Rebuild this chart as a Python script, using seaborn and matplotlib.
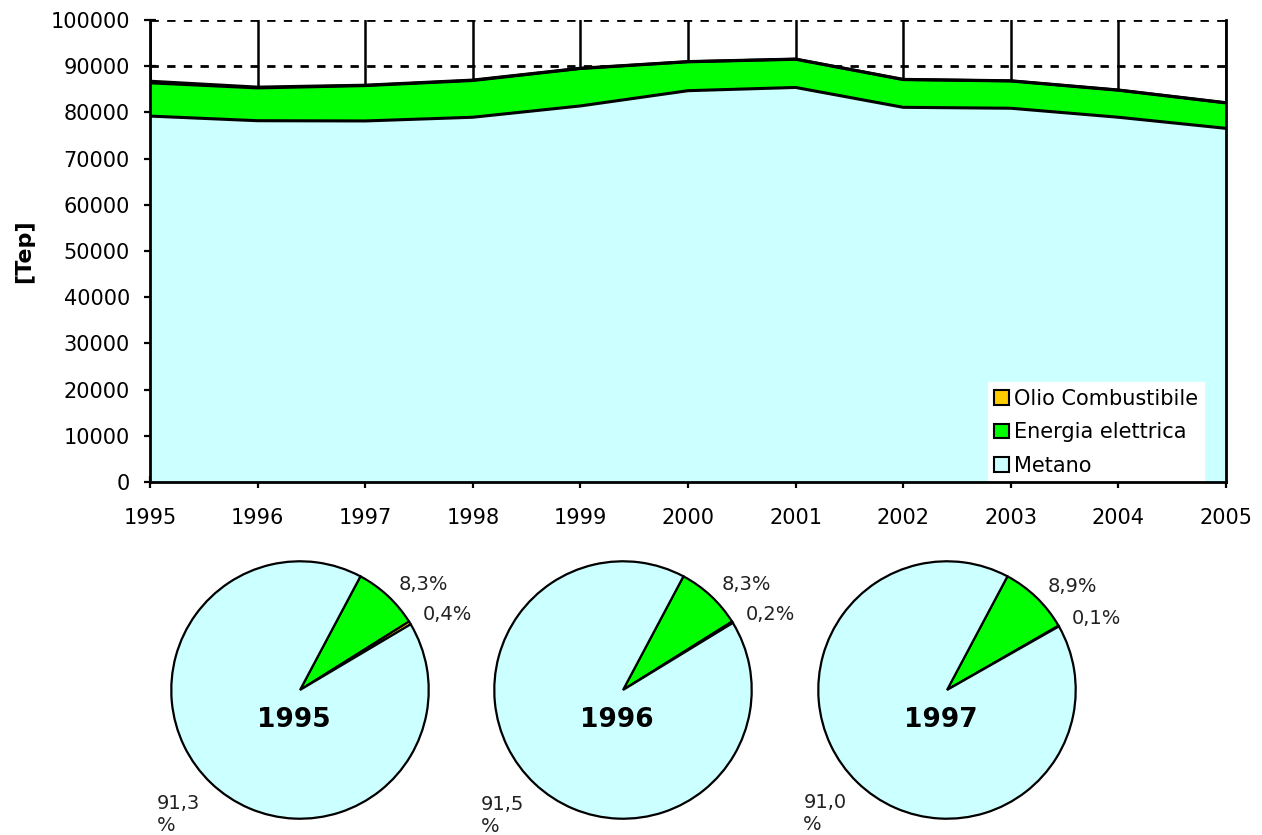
import matplotlib

matplotlib.use("Agg")

import matplotlib.pyplot as plt
import numpy as np
import pandas as pd
import seaborn as sns
from matplotlib.patches import Patch


# --- dati (Tep) ---
anni = [1995, 1996, 1997, 1998, 1999, 2000, 2001, 2002, 2003, 2004, 2005]
metano = [79200, 78200, 78150, 78950, 81400, 84700, 85400, 81100, 80900, 78950, 76550]
energia_elettrica = [7200, 7100, 7650, 7950, 8100, 6250, 6100, 6000, 5900, 5850, 5500]
olio_combustibile = [350, 170, 90, 100, 60, 50, 50, 50, 50, 50, 50]

# --- ripartizione percentuale per i grafici a torta ---
anni_torta = ["1995", "1996", "1997"]
perc_metano = [91.3, 91.5, 91.0]
perc_elettrica = [8.3, 8.3, 8.9]
perc_olio = [0.4, 0.2, 0.1]

COL_METANO = "#CCFFFF"
COL_ELETTRICA = "#00FF00"
COL_OLIO = "#FFCC00"

W, H = 1262, 835


def fmt(v):
    return f"{v:.1f}".replace(".", ",")


def main():
    sns.set_theme(style="white")
    plt.rcParams["font.family"] = ["DejaVu Sans"]

    df = pd.DataFrame(
        {
            "anno": anni,
            "metano": metano,
            "elettrica": energia_elettrica,
            "olio": olio_combustibile,
        }
    )
    df["liv1"] = df["metano"]
    df["liv2"] = df["liv1"] + df["elettrica"]
    df["liv3"] = df["liv2"] + df["olio"]

    fig = plt.figure(figsize=(W / 100, H / 100), dpi=100)
    fig.patch.set_facecolor("white")

    ax = fig.add_axes([150 / W, 1 - 482 / H, (1226 - 150) / W, (482 - 20) / H])
    ax.set_facecolor("white")
    ax.set_axisbelow(True)

    ax.fill_between(df["anno"], 0, df["liv1"], color=COL_METANO, linewidth=0, zorder=2)
    ax.fill_between(df["anno"], df["liv1"], df["liv2"], color=COL_ELETTRICA, linewidth=0, zorder=2)
    ax.fill_between(df["anno"], df["liv2"], df["liv3"], color=COL_OLIO, linewidth=0, zorder=2)

    for col in ["liv1", "liv2", "liv3"]:
        sns.lineplot(data=df, x="anno", y=col, ax=ax, color="black", linewidth=2.2, zorder=3)

    ax.set_xlim(1995, 2005)
    ax.set_ylim(0, 100000)
    ax.set_xticks(anni)
    ax.set_yticks(np.arange(0, 100001, 10000))

    ax.grid(axis="x", color="black", linewidth=1.8, linestyle="-", zorder=1)
    ax.grid(axis="y", color="black", linewidth=2, linestyle=(0, (3, 3)), zorder=1)

    ax.spines["top"].set_visible(False)
    for side in ["left", "bottom", "right"]:
        ax.spines[side].set_color("black")
        ax.spines[side].set_linewidth(2)
        ax.spines[side].set_zorder(4)

    ax.tick_params(axis="both", which="major", direction="inout", length=9,
                   width=1.6, color="black", labelsize=15, labelcolor="black",
                   left=True, bottom=True)
    ax.tick_params(axis="y", pad=10)
    ax.tick_params(axis="x", pad=14)
    ax.set_xlabel("")
    ax.set_ylabel("[Tep]", fontsize=16, fontweight="bold", labelpad=12, color="black")

    handles = [
        Patch(facecolor=COL_OLIO, edgecolor="black", linewidth=1.5, label="Olio Combustibile"),
        Patch(facecolor=COL_ELETTRICA, edgecolor="black", linewidth=1.5, label="Energia elettrica"),
        Patch(facecolor=COL_METANO, edgecolor="black", linewidth=1.5, label="Metano"),
    ]
    leg = ax.legend(
        handles=handles,
        loc="lower right",
        bbox_to_anchor=(0.98, 0.0),
        borderaxespad=0,
        frameon=True,
        fancybox=False,
        framealpha=1,
        edgecolor="white",
        fontsize=15,
        handlelength=0.7,
        handleheight=0.7,
        handletextpad=0.25,
        labelspacing=0.65,
        borderpad=0.3,
    )
    for t in leg.get_texts():
        t.set_color("black")
    leg.set_zorder(3.5)

    # --- grafici a torta ---
    centri = [300, 623, 947]
    r = 130
    for i, cx in enumerate(centri):
        axp = fig.add_axes([(cx - r) / W, 1 - (690 + r) / H, 2 * r / W, 2 * r / H])
        valori = [perc_elettrica[i], perc_olio[i], perc_metano[i]]
        etichette = [f"{fmt(perc_elettrica[i])}%", f"{fmt(perc_olio[i])}%", f"{fmt(perc_metano[i])}\n%"]
        wedges, texts = axp.pie(
            valori,
            labels=etichette,
            colors=[COL_ELETTRICA, COL_OLIO, COL_METANO],
            startangle=62,
            counterclock=False,
            labeldistance=1.12,
            wedgeprops={"edgecolor": "black", "linewidth": 1.6},
            textprops={"fontsize": 14, "color": "#222222"},
        )
        texts[2].set_horizontalalignment("right")
        texts[2].set_verticalalignment("top")
        texts[2].set_multialignment("left")
        axp.text(-0.05, -0.23, anni_torta[i], ha="center", va="center",
                 fontsize=19, fontweight="bold", color="black")
        axp.set_xlim(-1.01, 1.01)
        axp.set_ylim(-1.01, 1.01)
        axp.set_aspect("equal")
        axp.axis("off")

    fig.savefig("out.png", dpi=100, facecolor="white")
    plt.close(fig)


if __name__ == "__main__":
    main()
